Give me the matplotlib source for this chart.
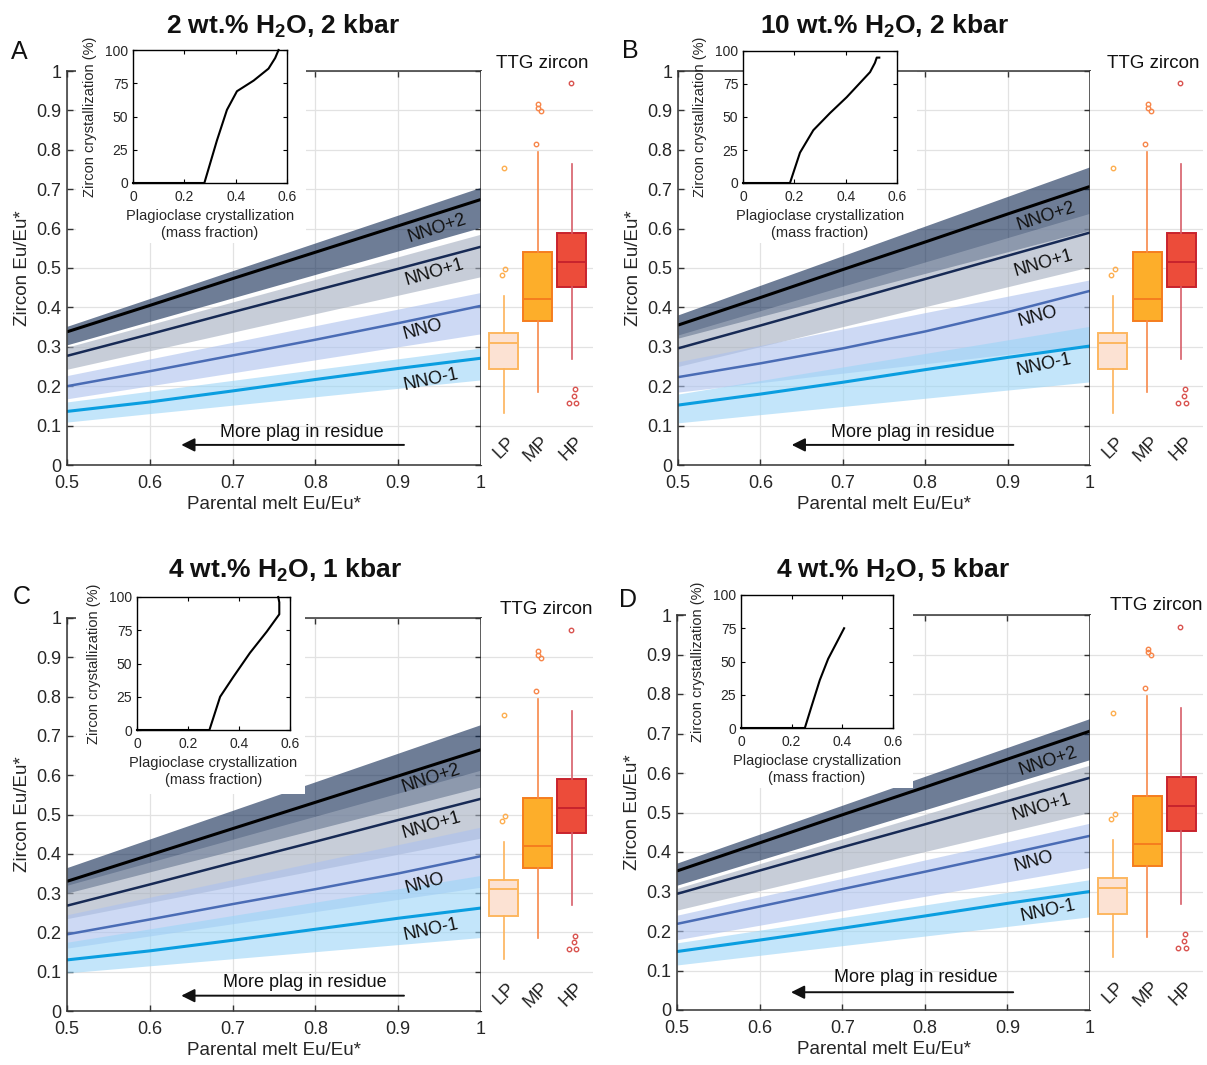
import matplotlib.pyplot as plt
import numpy as np
from matplotlib.patches import Rectangle

plt.rcParams['font.family'] = ['Liberation Sans', 'DejaVu Sans']
plt.rcParams['mathtext.fontset'] = 'custom'
plt.rcParams['mathtext.rm'] = 'Liberation Sans'
plt.rcParams['mathtext.bf'] = 'Liberation Sans:bold'

# ---------------- data ----------------
melt_eu = [0.5, 0.6, 0.7, 0.8, 0.9, 1.0]
band_ends = [0.5, 1.0]
fo2_names = ['NNO+2', 'NNO+1', 'NNO', 'NNO-1']

# panel A: 2 wt.% H2O, 2 kbar
a_nno2 = [0.338, 0.405, 0.473, 0.540, 0.607, 0.674]
a_nno1 = [0.277, 0.332, 0.388, 0.443, 0.498, 0.554]
a_nno = [0.200, 0.238, 0.278, 0.318, 0.360, 0.404]
a_nnom1 = [0.136, 0.160, 0.188, 0.217, 0.245, 0.271]
a_band_lo = [[0.305, 0.603], [0.243, 0.478], [0.168, 0.333], [0.109, 0.216]]
a_band_hi = [[0.352, 0.705], [0.299, 0.586], [0.227, 0.438], [0.160, 0.297]]
a_plag = [0, 0.278, 0.327, 0.366, 0.405, 0.47, 0.528, 0.554, 0.567]
a_zrc = [0, 0, 32, 55, 69, 77, 86, 94, 100]

# panel B: 10 wt.% H2O, 2 kbar
b_nno2 = [0.355, 0.425, 0.496, 0.566, 0.637, 0.707]
b_nno1 = [0.296, 0.354, 0.413, 0.472, 0.531, 0.590]
b_nno = [0.223, 0.258, 0.296, 0.339, 0.388, 0.442]
b_nnom1 = [0.152, 0.180, 0.210, 0.242, 0.273, 0.302]
b_band_lo = [[0.322, 0.596], [0.250, 0.503], [0.185, 0.305], [0.107, 0.211]]
b_band_hi = [[0.381, 0.757], [0.330, 0.639], [0.262, 0.470], [0.180, 0.352]]
b_plag = [0, 0.183, 0.222, 0.274, 0.339, 0.404, 0.495, 0.514, 0.521, 0.531]
b_zrc = [0, 0, 23, 40, 53, 65, 84, 91, 95, 95]

# panel C: 4 wt.% H2O, 1 kbar
c_nno2 = [0.330, 0.397, 0.464, 0.531, 0.598, 0.665]
c_nno1 = [0.268, 0.322, 0.377, 0.431, 0.486, 0.540]
c_nno = [0.195, 0.233, 0.272, 0.310, 0.350, 0.394]
c_nnom1 = [0.130, 0.153, 0.180, 0.208, 0.236, 0.262]
c_band_lo = [[0.300, 0.570], [0.235, 0.440], [0.160, 0.315], [0.097, 0.187]]
c_band_hi = [[0.365, 0.729], [0.320, 0.613], [0.245, 0.468], [0.175, 0.345]]
c_plag = [0, 0.284, 0.326, 0.378, 0.443, 0.509, 0.558, 0.558, 0.554]
c_zrc = [0, 0, 25, 40, 58, 74, 87, 96, 100]

# panel D: 4 wt.% H2O, 5 kbar
d_nno2 = [0.352, 0.423, 0.494, 0.564, 0.635, 0.706]
d_nno1 = [0.294, 0.353, 0.412, 0.470, 0.529, 0.588]
d_nno = [0.218, 0.262, 0.306, 0.350, 0.395, 0.441]
d_nnom1 = [0.148, 0.177, 0.207, 0.238, 0.270, 0.300]
d_band_lo = [[0.316, 0.634], [0.253, 0.500], [0.178, 0.361], [0.114, 0.236]]
d_band_hi = [[0.372, 0.738], [0.308, 0.620], [0.240, 0.473], [0.170, 0.330]]
d_plag = [0, 0.252, 0.278, 0.311, 0.344, 0.377, 0.407]
d_zrc = [0, 0, 16, 36, 52, 64, 75]

# TTG zircon box statistics (same in every panel)
box_groups = ['LP', 'MP', 'HP']
box_q1 = [0.243, 0.365, 0.453]
box_med = [0.310, 0.421, 0.516]
box_q3 = [0.334, 0.541, 0.590]
box_whislo = [0.133, 0.186, 0.269]
box_whishi = [0.430, 0.795, 0.764]
lp_fliers = [0.483, 0.497, 0.753]
mp_fliers = [0.815, 0.899, 0.907, 0.915]
hp_fliers = [0.969, 0.192, 0.175, 0.158, 0.158]
flier_jitter = [[-0.06, 0.05, 0.0], [-0.05, 0.11, 0.02, 0.02],
                [-0.03, 0.09, 0.08, -0.09, 0.14]]

# ---------------- style ----------------
band_cols = ['#0d2650', '#a3adbe', '#acc1ee', '#9bd5f7']
line_cols = ['#000000', '#172a55', '#4a6cb5', '#0a9ee0']
line_lws = [2.2, 1.8, 1.8, 2.2]
box_face = ['#fce2d3', '#fdae2a', '#ec4c3a']
box_edge = ['#fdb760', '#f57d1e', '#c8232d']
whisk_col = ['#fdb35a', '#f7894a', '#d75f69']
flier_col = ['#fdae50', '#f7864a', '#d9534f']
txt = '#262626'

W, H = 1207, 1065
fig = plt.figure(figsize=(W / 100, H / 100), dpi=100)


def px_axes(x0, y0, x1, y1, **kw):
    return fig.add_axes([x0 / W, 1 - y1 / H, (x1 - x0) / W, (y1 - y0) / H], **kw)


panels = [
    dict(letter='A', title=r'2 wt.% H$_\mathbf{2}$O, 2 kbar',
         lines=[a_nno2, a_nno1, a_nno, a_nnom1], lo=a_band_lo, hi=a_band_hi,
         plag=a_plag, zrc=a_zrc,
         main=(67, 71, 481, 465), boxr=593, inset=(133, 50, 287, 183),
         cover=(76, 40, 306, 243), cover_z=2.6, title_xy=(283, 33.5),
         letter_xy=(11, 59), ttg_xy=(542, 68),
         lab_xy=[(0.947, 0.60), (0.944, 0.49), (0.93, 0.343), (0.94, 0.216)],
         arrow_y=0.051, arrow_txt=(0.784, 0.083)),
    dict(letter='B', title=r'10 wt.% H$_\mathbf{2}$O, 2 kbar',
         lines=[b_nno2, b_nno1, b_nno, b_nnom1], lo=b_band_lo, hi=b_band_hi,
         plag=b_plag, zrc=b_zrc,
         main=(678, 71, 1090, 465), boxr=1203, inset=(743, 51, 897, 183),
         cover=(686, 60, 917, 243), cover_z=0.9, title_xy=(884, 34),
         letter_xy=(622, 58), ttg_xy=(1153, 68),
         lab_xy=[(0.946, 0.63), (0.944, 0.512), (0.937, 0.378), (0.944, 0.254)],
         arrow_y=0.051, arrow_txt=(0.785, 0.083)),
    dict(letter='C', title=r'4 wt.% H$_\mathbf{2}$O, 1 kbar',
         lines=[c_nno2, c_nno1, c_nno, c_nnom1], lo=c_band_lo, hi=c_band_hi,
         plag=c_plag, zrc=c_zrc,
         main=(67, 618, 481, 1011), boxr=593, inset=(137, 597, 290, 730),
         cover=(76, 585, 305, 794), cover_z=2.6, title_xy=(285, 578),
         letter_xy=(13, 604), ttg_xy=(546, 614),
         lab_xy=[(0.94, 0.591), (0.94, 0.473), (0.932, 0.325), (0.94, 0.207)],
         arrow_y=0.039, arrow_txt=(0.787, 0.072)),
    dict(letter='D', title=r'4 wt.% H$_\mathbf{2}$O, 5 kbar',
         lines=[d_nno2, d_nno1, d_nno, d_nnom1], lo=d_band_lo, hi=d_band_hi,
         plag=d_plag, zrc=d_zrc,
         main=(677, 615, 1090, 1010), boxr=1203, inset=(741, 595, 893, 728),
         cover=(686, 580, 913, 788), cover_z=2.6, title_xy=(893, 578),
         letter_xy=(619, 607), ttg_xy=(1156, 610),
         lab_xy=[(0.949, 0.629), (0.941, 0.512), (0.932, 0.377), (0.949, 0.251)],
         arrow_y=0.045, arrow_txt=(0.789, 0.082)),
]
label_rot = [18, 16, 15, 12]
all_fliers = [lp_fliers, mp_fliers, hp_fliers]

for p in panels:
    x0, y0, x1, y1 = p['main']
    ax = px_axes(x0, y0, x1, y1)
    ax.set_xlim(0.5, 1)
    ax.set_ylim(0, 1)
    ax.set_axisbelow(True)
    ax.grid(True, color='#e2e2e2', lw=0.9)
    for lo, hi, c in zip(p['lo'], p['hi'], band_cols):
        ax.fill_between(band_ends, lo, hi, color=c, alpha=0.6, lw=0, zorder=1)
    for vals, c, lw in zip(p['lines'], line_cols, line_lws):
        ax.plot(melt_eu, vals, color=c, lw=lw, zorder=2, solid_capstyle='butt')
    for name, (lx, ly), rot in zip(fo2_names, p['lab_xy'], label_rot):
        ax.text(lx, ly, name, fontsize=13, rotation=rot, ha='center', va='center',
                color='#111111', zorder=4, rotation_mode='anchor')
    ax.annotate('', xy=(0.638, p['arrow_y']), xytext=(0.907, p['arrow_y']),
                arrowprops=dict(arrowstyle='-|>', color='#111111', lw=1.4,
                                mutation_scale=20, shrinkA=0, shrinkB=0))
    ax.text(p['arrow_txt'][0], p['arrow_txt'][1], 'More plag in residue',
            fontsize=13, ha='center', va='center', color='#111111')
    ax.set_xticks([0.5, 0.6, 0.7, 0.8, 0.9, 1.0])
    ax.set_xticklabels(['0.5', '0.6', '0.7', '0.8', '0.9', '1'])
    ax.set_yticks(np.arange(0, 1.01, 0.1))
    ax.set_yticklabels(['0', '0.1', '0.2', '0.3', '0.4', '0.5', '0.6', '0.7',
                        '0.8', '0.9', '1'])
    ax.tick_params(direction='in', length=4.5, width=1, top=True, right=True,
                   labelsize=13, colors='#333333', labelcolor=txt)
    ax.tick_params(axis='x', pad=7)
    ax.tick_params(axis='y', pad=4)
    for s in ax.spines.values():
        s.set_color('#333333')
        s.set_linewidth(1.1)
    ax.set_xlabel('Parental melt Eu/Eu*', fontsize=13.5, color=txt, labelpad=3)
    ax.set_ylabel('Zircon Eu/Eu*', fontsize=13.5, color=txt, labelpad=4)

    # white patch behind the inset and its labels
    cx0, cy0, cx1, cy1 = p['cover']
    ax.add_patch(Rectangle((cx0 / W, 1 - cy1 / H), (cx1 - cx0) / W, (cy1 - cy0) / H,
                           transform=fig.transFigure, facecolor='white',
                           edgecolor='none', zorder=p['cover_z'], clip_on=False))

    # inset: zircon vs plagioclase crystallization
    ix0, iy0, ix1, iy1 = p['inset']
    ins = px_axes(ix0, iy0, ix1, iy1, zorder=3)
    ins.plot(p['plag'], p['zrc'], color='black', lw=1.5, clip_on=False)
    ins.set_xlim(0, 0.6)
    ins.set_ylim(0, 100)
    ins.set_xticks([0, 0.2, 0.4, 0.6])
    ins.set_xticklabels(['0', '0.2', '0.4', '0.6'])
    ins.set_yticks([0, 25, 50, 75, 100])
    ins.tick_params(direction='in', length=3, width=0.8, top=True, right=True,
                    labelsize=10, labelcolor=txt)
    ins.tick_params(axis='x', pad=5)
    ins.tick_params(axis='y', pad=3.4)
    for s in ins.spines.values():
        s.set_linewidth(1)
    ins.set_xlabel('Plagioclase crystallization\n(mass fraction)', fontsize=10.5,
                   color=txt, labelpad=3.5, linespacing=1.3)
    ins.set_ylabel('Zircon crystallization (%)', fontsize=10.5, color=txt,
                   labelpad=6)

    # TTG zircon box plots
    bx = px_axes(x1, y0, p['boxr'], y1)
    bx.set_xlim(0.33, 3.63)
    bx.set_ylim(0, 1)
    bx.set_axisbelow(True)
    bx.set_yticks(np.arange(0.1, 0.95, 0.1))
    bx.set_xticks([])
    bx.tick_params(length=0, labelleft=False)
    bx.grid(True, axis='y', color='#e2e2e2', lw=0.9)
    for s in bx.spines.values():
        s.set_visible(False)
    for i, g in enumerate(box_groups):
        st = dict(label=g, q1=box_q1[i], med=box_med[i], q3=box_q3[i],
                  whislo=box_whislo[i], whishi=box_whishi[i], fliers=[])
        bx.bxp([st], positions=[i + 1], widths=0.85, patch_artist=True,
               showcaps=False, showfliers=False,
               boxprops=dict(facecolor=box_face[i], edgecolor=box_edge[i], lw=1.4),
               medianprops=dict(color=box_edge[i], lw=1.4),
               whiskerprops=dict(color=whisk_col[i], lw=1.2),
               manage_ticks=False)
        fx = [i + 1 + dx for dx in flier_jitter[i]]
        bx.plot(fx, all_fliers[i], ls='none', marker='o', ms=3.2, mfc='none',
                mec=flier_col[i], mew=1, clip_on=False)
        bx.text(i + 1 + 0.26, 0.065, g, rotation=45, rotation_mode='anchor',
                ha='right', va='center', fontsize=13.5, color=txt)

    fig.text(p['title_xy'][0] / W, 1 - p['title_xy'][1] / H, p['title'],
             fontsize=19, fontweight='bold', ha='center', va='baseline',
             color='#111111')
    fig.text(p['letter_xy'][0] / W, 1 - p['letter_xy'][1] / H, p['letter'],
             fontsize=18, ha='left', va='baseline', color='#111111')
    fig.text(p['ttg_xy'][0] / W, 1 - p['ttg_xy'][1] / H, 'TTG zircon',
             fontsize=13.5, ha='center', va='baseline', color='#111111')

fig.savefig('out.png', dpi=100, facecolor='white')
